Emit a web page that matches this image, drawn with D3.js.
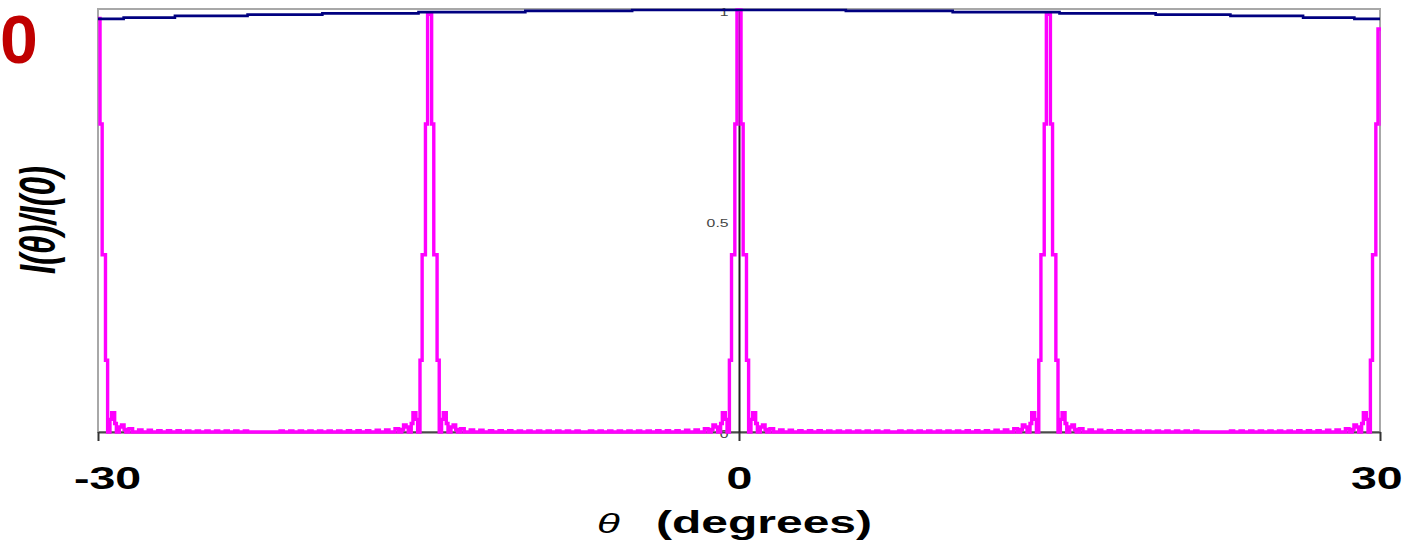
<!DOCTYPE html>
<html>
<head>
<meta charset="utf-8">
<script src="https://cdn.jsdelivr.net/npm/d3@7"></script>
<style>
  html, body { margin: 0; padding: 0; background: #ffffff; }
  svg { display: block; }
</style>
</head>
<body>
<svg id="chart" width="1407" height="541"></svg>
<script>
// ---------------- data ----------------
const xTicks = [-30, 0, 30];
const yTicks = [0, 0.5, 1];
const yTickLabels = ["0", "0.5", "1"];

// principal maxima of the multi-slit pattern (degrees) and their heights
const peakCenters = [-30, -14.48, 0, 14.48, 30];
const peakTops = [0.98, 0.99, 1.0, 0.99, 0.955];

// one-sided profile around a principal maximum:
// at offset lobeEdges[k] (degrees from the peak) the intensity steps to lobeValues[k]
const lobeEdges = [0.095, 0.195, 0.35, 0.45, 0.56, 0.64, 0.78, 0.86, 1.0, 1.1, 1.22, 1.3,
  1.45, 1.62, 1.9, 2.06, 2.35, 2.5, 2.8, 2.95, 3.25, 3.4, 3.7, 3.85, 4.15, 4.3,
  4.6, 4.75, 5.05, 5.2, 5.5, 5.65, 5.95, 6.1, 6.4, 6.55, 6.85, 7.0];
const lobeValues = [0.73, 0.42, 0.17, 0, 0.03, 0.046, 0.02, 0, 0.012, 0.017, 0.006, 0,
  0.008, 0, 0.005, 0, 0.004, 0, 0.003, 0, 0.003, 0, 0.003, 0, 0.0025, 0,
  0.0025, 0, 0.0025, 0, 0.0025, 0, 0.0025, 0, 0.0025, 0, 0.0025, 0];

// single-slit envelope (navy line), stepped
const envTheta = [-30, -28.8, -26.4, -23, -19.5, -15, -10, -5, 5, 10, 15, 19.5, 23, 26.4, 28.8, 30];
const envValue = [0.979, 0.982, 0.986, 0.989, 0.992, 0.995, 0.998, 1.0, 0.998, 0.995, 0.992, 0.989, 0.986, 0.982, 0.979, 0.979];

// ---------------- build series table ----------------
const pattern = [];
peakCenters.forEach((c, i) => {
  const K = lobeEdges.length;
  for (let k = K - 1; k >= 0; k--) {
    pattern.push({ t: c - lobeEdges[k], v: k > 0 ? lobeValues[k - 1] : peakTops[i] });
  }
  for (let k = 0; k < K; k++) {
    pattern.push({ t: c + lobeEdges[k], v: lobeValues[k] });
  }
});
pattern.sort((a, b) => a.t - b.t);
const envelope = envTheta.map((t, i) => ({ t: t, v: envValue[i] }));

// ---------------- drawing ----------------
const svg = d3.select("#chart");
const x = d3.scaleLinear().domain([-30, 30]).range([98, 1380]);
const y = d3.scaleLinear().domain([0, 1]).range([432, 10]);
const SX = 1.5; // horizontal stretch of the original picture's text

svg.append("defs").append("clipPath").attr("id", "plotclip")
  .append("rect").attr("x", 98).attr("y", 6).attr("width", 1283).attr("height", 428);

// plot area border
svg.append("rect")
  .attr("x", x(-30)).attr("y", y(1) - 1)
  .attr("width", x(30) - x(-30)).attr("height", y(0) - y(1) + 1)
  .attr("fill", "none").attr("stroke", "#a8a8a8").attr("stroke-width", 2);

// x axis
const xAxis = svg.append("g").attr("transform", `translate(0,${y(0)})`)
  .call(d3.axisBottom(x).tickValues(xTicks).tickSize(9).tickSizeOuter(0)
    .tickFormat(d => d));
xAxis.select(".domain").attr("stroke", "#4a4a4a").attr("stroke-width", 2);
xAxis.selectAll(".tick line").attr("stroke", "#333").attr("stroke-width", 2);
xAxis.selectAll(".tick text")
  .attr("font-family", "Arial, 'Liberation Sans', sans-serif")
  .attr("font-weight", "bold").attr("font-size", 31).attr("fill", "#000")
  .attr("transform", `scale(${SX},1)`)
  .attr("dy", null).attr("y", 57)
  .attr("x", d => d === -30 ? 6 : (d === 30 ? -2.5 : 0));

// y axis at theta = 0
const yAxis = svg.append("g").attr("transform", `translate(${x(0)},0)`)
  .call(d3.axisLeft(y).tickValues(yTicks).tickSize(0)
    .tickFormat((d, i) => yTickLabels[i]));
yAxis.select(".domain").attr("stroke", "#222").attr("stroke-width", 2);
yAxis.selectAll(".tick text")
  .attr("font-family", "Arial, 'Liberation Sans', sans-serif")
  .attr("font-size", 10.5).attr("fill", "#444")
  .attr("dy", "0.5em")
  .attr("transform", `scale(${SX},1)`).attr("x", -10.5 / SX);

// magenta multi-slit pattern
const stepLine = d3.line().x(d => x(d.t)).y(d => y(d.v)).curve(d3.curveStepAfter);
svg.append("path").datum(pattern)
  .attr("clip-path", "url(#plotclip)")
  .attr("d", stepLine)
  .attr("fill", "none").attr("stroke", "#ff00ff").attr("stroke-width", 3.4)
  .attr("stroke-linejoin", "miter");

// navy envelope
svg.append("path").datum(envelope)
  .attr("clip-path", "url(#plotclip)")
  .attr("d", stepLine)
  .attr("fill", "none").attr("stroke", "#000080").attr("stroke-width", 2.6);

// x axis title
const xt = svg.append("text")
  .attr("transform", `scale(${SX},1)`)
  .attr("y", 533)
  .attr("font-family", "Arial, 'Liberation Sans', sans-serif")
  .attr("font-size", 32).attr("fill", "#000");
xt.append("tspan").attr("x", 597 / SX).attr("font-style", "italic").attr("font-size", 28).text("θ");
xt.append("tspan").attr("x", 656 / SX).attr("font-weight", "bold").text("(degrees)");

// y axis title
svg.append("text")
  .attr("transform", `translate(38,220) scale(${SX},1) rotate(-90)`)
  .attr("text-anchor", "middle").attr("dominant-baseline", "central")
  .attr("font-family", "Arial, 'Liberation Sans', sans-serif")
  .attr("font-size", 33).attr("font-style", "italic").attr("font-weight", "bold").attr("fill", "#000")
  .text("I(θ)/I(0)");

// red panel label (at the left edge)
svg.append("text")
  .attr("x", 0).attr("y", 63)
  .attr("font-family", "Arial, 'Liberation Sans', sans-serif")
  .attr("font-weight", "bold").attr("font-size", 68).attr("fill", "#c00000")
  .text("0");
</script>
</body>
</html>
